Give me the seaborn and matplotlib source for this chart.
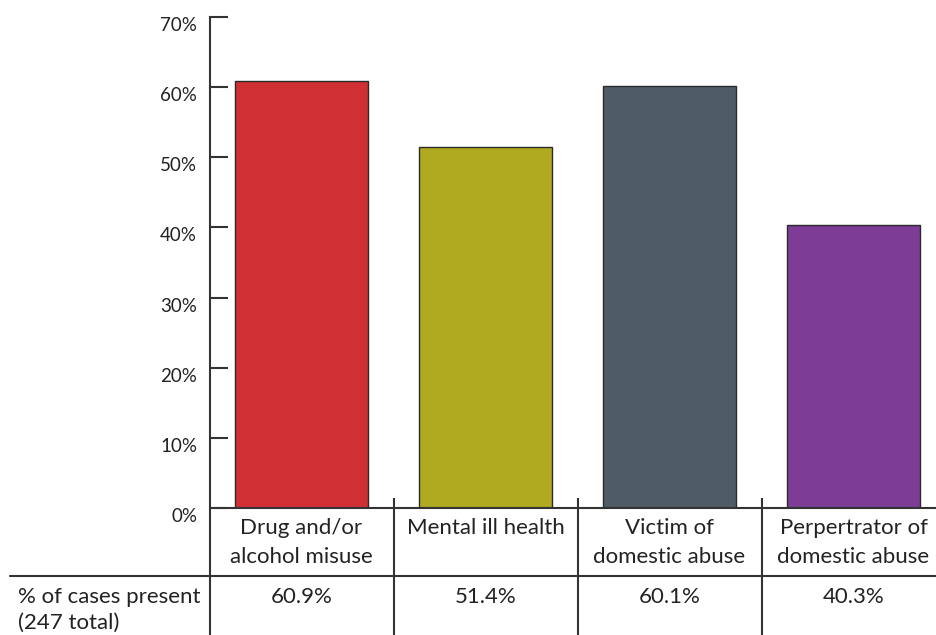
import matplotlib
matplotlib.use("Agg")
import matplotlib.pyplot as plt
import matplotlib.transforms as mtransforms
import seaborn as sns
import pandas as pd

categories = ["Drug and/or\nalcohol misuse", "Mental ill health",
              "Victim of\ndomestic abuse", "Perpertrator of\ndomestic abuse"]
values = [60.9, 51.4, 60.1, 40.3]
colors = ["#D03033", "#AFAA20", "#4F5C66", "#7D3C96"]
yticks = [0, 10, 20, 30, 40, 50, 60, 70]
ytick_labels = ["0%", "10%", "20%", "30%", "40%", "50%", "60%", "70%"]
row_label = "% of cases present\n(247 total)"

sns.set_theme(style="white")
plt.rcParams["font.family"] = ["Lato", "DejaVu Sans"]

W, H = 936, 635
fig = plt.figure(figsize=(W / 100, H / 100), dpi=100)

# plot area in pixel terms
x0, x1 = 209.5, 936.0
y_top, y_base = 17.0, 508.0
ax = fig.add_axes([x0 / W, (H - y_base) / H, (x1 - x0) / W, (y_base - y_top) / H])

df = pd.DataFrame({"cat": categories, "val": values})
sns.barplot(data=df, x="cat", y="val", hue="cat", palette=colors, legend=False,
            width=0.72, edgecolor="#2a2a2a", linewidth=1.0, saturation=1, ax=ax)

ax.set_xlim(-0.5, -0.5 + (x1 - x0) / 184.0)
ax.set_ylim(0, 70)
ax.set_xlabel("")
ax.set_ylabel("")

line_c = "#333333"
txt_c = "#222222"
for s in ["top", "right"]:
    ax.spines[s].set_visible(False)
for s in ["left", "bottom"]:
    ax.spines[s].set_color(line_c)
    ax.spines[s].set_linewidth(1.5)

ax.set_yticks(yticks)
ax.set_yticklabels(ytick_labels)
ax.tick_params(axis="y", direction="in", length=13, width=1.5, color=line_c,
               pad=9, labelsize=13.5, labelcolor=txt_c, left=True)
shift = mtransforms.ScaledTranslation(0, -7 / 100, fig.dpi_scale_trans)
for lbl in ax.get_yticklabels():
    lbl.set_transform(lbl.get_transform() + shift)

ax.set_xticks(range(len(categories)))
ax.set_xticklabels(categories, fontsize=16, color=txt_c, linespacing=1.55)
ax.tick_params(axis="x", length=0, pad=7, bottom=False)

# table grid below the bars
px_per_unit = (y_base - y_top) / 70.0
def ydata(py):
    return -(py - y_base) / px_per_unit

bottom = ydata(H + 2)
for xb in [-0.5, 0.5, 1.5, 2.5]:
    top = 0 if xb == -0.5 else ydata(y_base - 10)
    ax.plot([xb, xb], [top, bottom], color=line_c, lw=1.5, clip_on=False,
            solid_capstyle="butt")

xl = (10 - x0) / 184.0 - 0.5
ax.plot([xl, ax.get_xlim()[1] + 0.1], [ydata(575.5)] * 2, color=line_c, lw=1.5,
        clip_on=False)

for i, v in enumerate(values):
    ax.text(i, ydata(597), f"{v:.1f}%", ha="center", va="center",
            fontsize=16, color=txt_c, clip_on=False)

ax.text((18 - x0) / 184.0 - 0.5, ydata(610), row_label, ha="left", va="center",
        fontsize=16, color=txt_c, linespacing=1.4, clip_on=False)

fig.savefig("out.png", dpi=100)
